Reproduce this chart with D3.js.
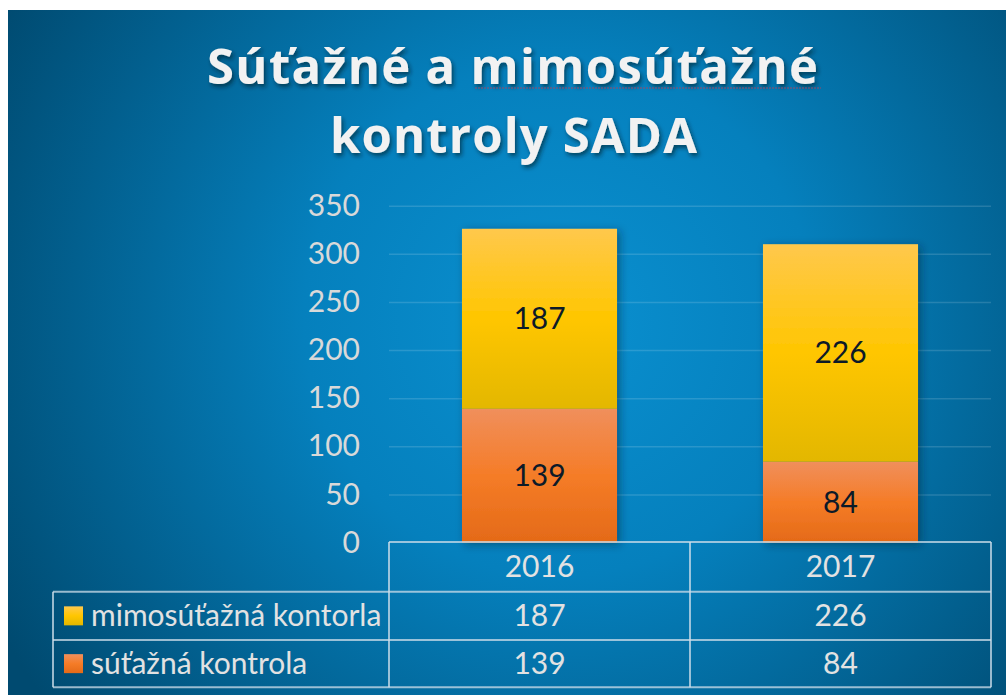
<!DOCTYPE html>
<html>
<head>
<meta charset="utf-8">
<script src="https://cdn.jsdelivr.net/npm/d3@7"></script>
<style>
    body { margin: 0; background: #fff; }
    svg { display: block; font-family: Lato, 'Open Sans', sans-serif; }
</style>
</head>
<body>
<div id="viz"></div>
<script>
const titleLines = ['Súťažné a mimosúťažné', 'kontroly SADA'];
const years = ['2016', '2017'];
const seriesNames = ['mimosúťažná kontorla', 'súťažná kontrola'];
const sutazna = [139, 84];
const mimosutazna = [187, 226];
const yTicks = [0, 50, 100, 150, 200, 250, 300, 350];

document.addEventListener('DOMContentLoaded', function() {
    generateViz();
});

function generateViz() {
    const width = 1006;
    const height = 695;
    const plotLeft = 389, plotRight = 991;
    const plotTop = 205.7, plotBottom = 542.6;
    const legendLeft = 53;
    const rowEdges = [542, 591.7, 640, 687.3];
    const fontSize = 30;

    let svg = d3.select('#viz')
                .append('svg')
                .attr('width', width)
                .attr('height', height);

    let defs = svg.append('defs');
    let bg = defs.append('radialGradient')
                 .attr('id', 'bg')
                 .attr('gradientUnits', 'userSpaceOnUse')
                 .attr('cx', 560).attr('cy', 320).attr('r', 640);
    bg.append('stop').attr('offset', '0%').attr('stop-color', '#0a90d0');
    bg.append('stop').attr('offset', '40%').attr('stop-color', '#0580bd');
    bg.append('stop').attr('offset', '100%').attr('stop-color', '#004a70');

    function barGradient(id, stops) {
        let g = defs.append('linearGradient').attr('id', id)
                    .attr('x1', 0).attr('y1', 0).attr('x2', 0).attr('y2', 1);
        stops.forEach(s => g.append('stop').attr('offset', s[0]).attr('stop-color', s[1]));
    }
    barGradient('gYellow', [['0%', '#ffc84c'], ['50%', '#ffc600'], ['100%', '#e3b700']]);
    barGradient('gOrange', [['0%', '#f08f5c'], ['50%', '#f57c27'], ['100%', '#e46a18']]);

    let shadow = defs.append('filter').attr('id', 'shadow')
                     .attr('x', '-20%').attr('y', '-20%').attr('width', '140%').attr('height', '140%');
    shadow.append('feDropShadow').attr('dx', 3).attr('dy', 2)
          .attr('stdDeviation', 4).attr('flood-color', '#002030').attr('flood-opacity', 0.45);
    let tshadow = defs.append('filter').attr('id', 'tshadow')
                      .attr('x', '-10%').attr('y', '-20%').attr('width', '120%').attr('height', '140%');
    tshadow.append('feDropShadow').attr('dx', 2).attr('dy', 3)
           .attr('stdDeviation', 2).attr('flood-color', '#001a28').attr('flood-opacity', 0.6);

    svg.append('rect')
       .attr('x', 8).attr('y', 10)
       .attr('width', width - 8).attr('height', height - 10)
       .attr('fill', 'url(#bg)');

    // title
    let title = svg.append('text')
                   .attr('text-anchor', 'middle')
                   .attr('fill', '#f2f2f2')
                   .attr('font-family', "'Open Sans', sans-serif")
                   .attr('font-weight', 'bold')
                   .attr('font-size', 49)
                   .attr('filter', 'url(#tshadow)');
    title.append('tspan').attr('x', 512.5).attr('y', 84)
         .attr('textLength', 611).attr('lengthAdjust', 'spacing').text(titleLines[0]);
    title.append('tspan').attr('x', 513.5).attr('y', 153)
         .attr('textLength', 367).attr('lengthAdjust', 'spacing').text(titleLines[1]);
    // spell-check squiggle under the second word
    svg.append('line')
       .attr('x1', 475).attr('x2', 821).attr('y1', 88).attr('y2', 88)
       .attr('stroke', '#9a4a66').attr('stroke-width', 1).attr('stroke-dasharray', '2,1');

    let xScale = d3.scaleBand().domain(years)
                   .range([plotLeft, plotRight])
                   .paddingInner(0.485).paddingOuter(0.2425);
    let yScale = d3.scaleLinear().domain([0, 350]).range([plotBottom, plotTop]);
    const step = xScale.step();

    // gridlines
    svg.append('g')
       .attr('transform', 'translate(' + plotLeft + ', 0)')
       .call(d3.axisLeft(yScale).tickValues(yTicks.slice(1)).tickSize(-(plotRight - plotLeft)).tickFormat(''))
       .call(g => g.select('.domain').remove())
       .call(g => g.selectAll('line').attr('stroke', 'rgba(255,255,255,0.14)').attr('stroke-width', 1.5));

    // y axis labels
    svg.append('g')
       .attr('transform', 'translate(360, 0)')
       .call(d3.axisLeft(yScale).tickValues(yTicks).tickSize(0).tickPadding(0))
       .call(g => g.select('.domain').remove())
       .call(g => g.selectAll('text')
                   .attr('fill', '#d9d9d9')
                   .attr('font-size', fontSize)
                   .attr('font-family', 'Lato, sans-serif'));

    // stacked bars
    const stacks = years.map((y, i) => ({ year: y, low: sutazna[i], high: mimosutazna[i] }));
    let bars = svg.selectAll('.bar')
                  .data(stacks)
                  .enter()
                  .append('g')
                  .attr('class', 'bar')
                  .attr('filter', 'url(#shadow)');
    bars.append('rect')
        .attr('x', d => xScale(d.year))
        .attr('width', xScale.bandwidth())
        .attr('y', d => yScale(d.low))
        .attr('height', d => yScale(0) - yScale(d.low))
        .attr('fill', 'url(#gOrange)');
    bars.append('rect')
        .attr('x', d => xScale(d.year))
        .attr('width', xScale.bandwidth())
        .attr('y', d => yScale(d.low + d.high))
        .attr('height', d => yScale(d.low) - yScale(d.low + d.high))
        .attr('fill', 'url(#gYellow)');

    let labels = svg.append('g')
                    .attr('font-size', fontSize)
                    .attr('fill', '#0c1a28')
                    .attr('text-anchor', 'middle');
    stacks.forEach(d => {
        const cx = xScale(d.year) + xScale.bandwidth() / 2;
        labels.append('text').attr('x', cx).attr('y', yScale(d.low / 2)).attr('dy', '0.35em').text(d.low);
        labels.append('text').attr('x', cx).attr('y', yScale(d.low + d.high / 2)).attr('dy', '0.35em').text(d.high);
    });

    // data table
    const colEdges = [plotLeft, plotLeft + step, plotLeft + 2 * step];
    let table = svg.append('g')
                   .attr('stroke', 'rgba(205,222,234,0.75)')
                   .attr('stroke-width', 2)
                   .attr('fill', 'none');
    table.append('line').attr('x1', plotLeft).attr('x2', plotRight).attr('y1', rowEdges[0]).attr('y2', rowEdges[0]);
    rowEdges.slice(1).forEach(r => {
        table.append('line').attr('x1', legendLeft).attr('x2', plotRight).attr('y1', r).attr('y2', r);
    });
    colEdges.forEach(c => {
        table.append('line').attr('x1', c).attr('x2', c).attr('y1', rowEdges[0]).attr('y2', rowEdges[3]);
    });
    table.append('line').attr('x1', legendLeft).attr('x2', legendLeft).attr('y1', rowEdges[1]).attr('y2', rowEdges[3]);

    let cells = svg.append('g')
                   .attr('font-size', fontSize)
                   .attr('fill', '#e2e2e2')
                   .attr('text-anchor', 'middle');
    const rowMid = i => (rowEdges[i] + rowEdges[i + 1]) / 2;
    years.forEach((y, i) => {
        const cx = xScale(y) + xScale.bandwidth() / 2;
        cells.append('text').attr('x', cx).attr('y', rowMid(0)).attr('dy', '0.35em').text(y);
        cells.append('text').attr('x', cx).attr('y', rowMid(1)).attr('dy', '0.35em').text(mimosutazna[i]);
        cells.append('text').attr('x', cx).attr('y', rowMid(2)).attr('dy', '0.35em').text(sutazna[i]);
    });

    const keyFill = ['url(#gYellow)', 'url(#gOrange)'];
    seriesNames.forEach((name, i) => {
        svg.append('rect')
           .attr('x', 64).attr('y', rowMid(i + 1) - 9.5)
           .attr('width', 19).attr('height', 19)
           .attr('fill', keyFill[i]);
        cells.append('text')
             .attr('x', 91).attr('y', rowMid(i + 1)).attr('dy', '0.35em')
             .attr('text-anchor', 'start')
             .text(name);
    });
}
</script>
</body>
</html>
